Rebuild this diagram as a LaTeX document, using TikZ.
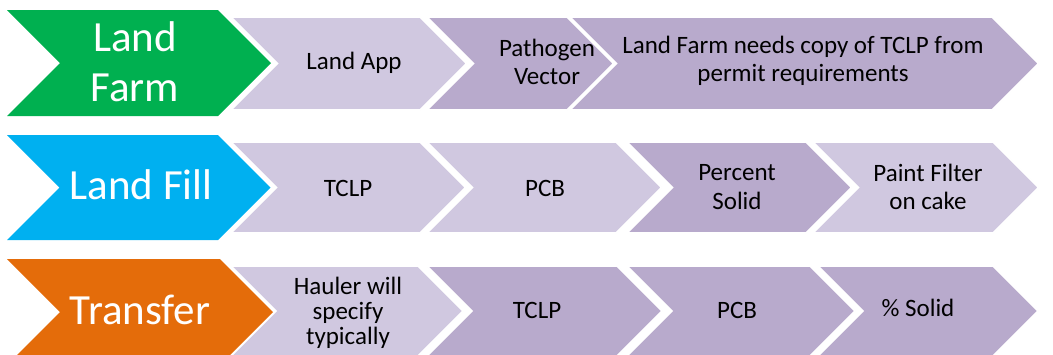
\documentclass[tikz,border=0pt]{standalone}
\usepackage{fontspec}
\setmainfont{Carlito}
\definecolor{lfgreen}{HTML}{00B050}
\definecolor{lfblue}{HTML}{00B0F0}
\definecolor{tforange}{HTML}{E46C0A}
\definecolor{lilacfill}{RGB}{208,200,224}
\definecolor{mauvefill}{RGB}{184,170,204}
\newcommand\chevshape[6]{\filldraw[#6,fill=#5] (#1,#3) -- (#2,#3) -- ({#2+(#4-#3)/2},{(#3+#4)/2}) -- (#2,#4) -- (#1,#4) -- ({#1+(#4-#3)/2},{(#3+#4)/2}) -- cycle;}
\begin{document}
\begin{tikzpicture}[x=1pt,y=-1pt,
  chev/.style={draw=white,line width=1.6pt,line join=miter},
  headchev/.style={draw=none},
  headtxt/.style={text=white,font=\fontsize{43}{50}\selectfont,align=center,inner sep=0pt},
  bodytxt/.style={text=black,font=\fontsize{25}{28.5}\selectfont,align=center,inner sep=0pt}]
\useasboundingbox[fill=white] (0,0) rectangle (1053,354);
\clip (0,0) rectangle (1053,354);

% ---------- Row 1 : Land Farm ----------
\chevshape{570}{992}{17}{110}{mauvefill}{chev}
\chevshape{427}{567}{17}{110}{mauvefill}{chev}
\chevshape{231}{420}{17}{110}{lilacfill}{chev}
\chevshape{7}{218}{10}{116}{lfgreen}{headchev}
\node[headtxt] (farm) at (135,62) {Land\\Farm};
\node[bodytxt] (landapp) at (354,63) {Land App};
\node[bodytxt] (pathogen) at (547,62) {Pathogen\\Vector};
\node[bodytxt] (tclpcopy) at (803,61) {Land Farm needs copy of TCLP from\\permit requirements};

% ---------- Row 2 : Land Fill ----------
\chevshape{813}{993}{142}{233}{lilacfill}{chev}
\chevshape{627}{806}{142}{233}{mauvefill}{chev}
\chevshape{427}{616}{142}{233}{lilacfill}{chev}
\chevshape{231}{420}{142}{233}{lilacfill}{chev}
\chevshape{7}{218}{135}{240}{lfblue}{headchev}
\node[headtxt] (fill) at (141,185) {Land Fill};
\node[bodytxt] (filltclp) at (348,188) {TCLP};
\node[bodytxt] (fillpcb) at (545,188) {PCB};
\node[bodytxt] (fillpct) at (737,187) {Percent\\Solid};
\node[bodytxt] (fillpaint) at (928,187) {Paint Filter\\on cake};

% ---------- Row 3 : Transfer ----------
\chevshape{818}{993}{266}{356}{mauvefill}{chev}
\chevshape{627}{810}{266}{356}{mauvefill}{chev}
\chevshape{427}{617}{266}{356}{mauvefill}{chev}
\chevshape{231}{418}{266}{356}{lilacfill}{chev}
\chevshape{7}{220}{259}{365}{tforange}{headchev}
\node[headtxt] (transfer) at (140,310) {Transfer};
\node[bodytxt,font=\fontsize{25}{25}\selectfont] (hauler) at (348,313) {Hauler will\\specify\\typically};
\node[bodytxt] (trtclp) at (537,310) {TCLP};
\node[bodytxt] (trpcb) at (737,310) {PCB};
\node[bodytxt] (trsolid) at (918,308) {\% Solid};
\end{tikzpicture}
\end{document}
